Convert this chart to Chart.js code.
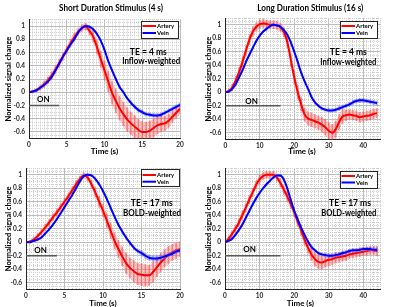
<!DOCTYPE html>
<html><head><meta charset="utf-8">
<script src="https://cdn.jsdelivr.net/npm/chart.js@4"></script>
<style>
html,body{margin:0;padding:0;background:#fff;width:400px;height:307px;overflow:hidden}
.p{position:absolute}
canvas{display:block}
</style></head><body>
<div class="p" style="left:0;top:0"><canvas id="c0" width="200" height="160"></canvas></div>
<div class="p" style="left:200px;top:0"><canvas id="c1" width="200" height="160"></canvas></div>
<div class="p" style="left:0;top:155px"><canvas id="c2" width="200" height="152"></canvas></div>
<div class="p" style="left:200px;top:155px"><canvas id="c3" width="200" height="152"></canvas></div>
<script>
// ---- data ----
const shortTime = [0,0.5,1,1.5,2,2.5,3,3.5,4,4.5,5,5.5,6,6.5,7,7.5,8,8.5,9,9.5,10,10.5,11,11.5,12,12.5,13,13.5,14,14.5,15,15.5,16,16.5,17,17.5,18,18.5,19,19.5,20];
const longTime = [0,1,2,3,4,5,6,7,8,9,10,11,12,13,14,15,16,17,18,19,20,21,22,23,24,25,26,27,28,29,30,31,32,33,34,35,36,37,38,39,40,41,42,43,44];

// Short stimulus, TE = 4 ms
const shortTE4Artery = [0,0.01,0.03,0.07,0.12,0.18,0.25,0.34,0.44,0.54,0.64,0.74,0.83,0.91,0.97,0.99,0.93,0.84,0.68,0.5,0.33,0.16,-0.01,-0.13,-0.24,-0.33,-0.41,-0.47,-0.52,-0.57,-0.6,-0.6,-0.58,-0.54,-0.5,-0.48,-0.47,-0.43,-0.37,-0.31,-0.25];
const shortTE4ArteryErr = [0.01,0.02,0.03,0.04,0.05,0.05,0.06,0.06,0.06,0.06,0.06,0.06,0.06,0.05,0.05,0.05,0.06,0.08,0.1,0.12,0.14,0.16,0.17,0.18,0.18,0.18,0.18,0.17,0.17,0.16,0.16,0.15,0.15,0.14,0.13,0.12,0.11,0.1,0.09,0.08,0.07];
const shortTE4Vein = [0,0.01,0.03,0.07,0.11,0.16,0.23,0.33,0.43,0.54,0.63,0.72,0.8,0.9,0.97,1.0,0.99,0.95,0.88,0.78,0.64,0.47,0.33,0.2,0.08,0.0,-0.09,-0.16,-0.22,-0.27,-0.3,-0.33,-0.34,-0.35,-0.35,-0.34,-0.31,-0.28,-0.25,-0.22,-0.19];
const shortTE4VeinErr = [0.01,0.01,0.01,0.02,0.02,0.02,0.02,0.02,0.02,0.02,0.02,0.02,0.02,0.02,0.02,0.02,0.02,0.02,0.02,0.02,0.02,0.02,0.02,0.02,0.02,0.02,0.02,0.03,0.03,0.03,0.03,0.03,0.03,0.03,0.03,0.03,0.03,0.03,0.03,0.03,0.03];

// Long stimulus, TE = 4 ms
const longTE4Artery = [0,0.02,0.07,0.17,0.3,0.45,0.62,0.78,0.9,0.97,1.01,1.02,1.01,1.0,1.0,0.99,0.96,0.89,0.74,0.48,0.22,0.0,-0.18,-0.33,-0.39,-0.41,-0.43,-0.45,-0.48,-0.52,-0.57,-0.6,-0.55,-0.44,-0.36,-0.34,-0.33,-0.34,-0.35,-0.37,-0.36,-0.35,-0.34,-0.32,-0.31];
const longTE4ArteryErr = [0.01,0.03,0.05,0.06,0.07,0.07,0.07,0.07,0.07,0.06,0.06,0.06,0.06,0.06,0.06,0.06,0.06,0.07,0.08,0.09,0.1,0.1,0.1,0.1,0.1,0.1,0.1,0.1,0.11,0.12,0.12,0.12,0.12,0.11,0.1,0.08,0.07,0.07,0.07,0.07,0.07,0.07,0.07,0.07,0.07];
const longTE4Vein = [0,0.01,0.05,0.12,0.22,0.33,0.45,0.56,0.66,0.76,0.84,0.9,0.94,0.98,1.0,0.99,0.97,0.92,0.85,0.74,0.6,0.45,0.29,0.16,0.05,-0.07,-0.15,-0.2,-0.24,-0.26,-0.27,-0.27,-0.26,-0.24,-0.22,-0.2,-0.18,-0.15,-0.13,-0.12,-0.12,-0.13,-0.14,-0.15,-0.16];
const longTE4VeinErr = [0.01,0.01,0.02,0.02,0.02,0.02,0.02,0.02,0.02,0.02,0.02,0.02,0.02,0.02,0.02,0.02,0.02,0.02,0.02,0.02,0.02,0.02,0.02,0.02,0.02,0.02,0.02,0.02,0.02,0.02,0.03,0.03,0.03,0.03,0.03,0.03,0.03,0.03,0.03,0.03,0.03,0.03,0.03,0.03,0.03];

// Short stimulus, TE = 17 ms
const shortTE17Artery = [0,0.01,0.04,0.09,0.15,0.22,0.29,0.37,0.44,0.52,0.6,0.68,0.77,0.86,0.94,0.99,0.96,0.86,0.74,0.6,0.47,0.32,0.17,0.02,-0.1,-0.21,-0.31,-0.38,-0.43,-0.47,-0.48,-0.49,-0.49,-0.44,-0.37,-0.3,-0.24,-0.19,-0.15,-0.12,-0.1];
const shortTE17ArteryErr = [0.01,0.02,0.03,0.04,0.04,0.05,0.05,0.05,0.05,0.05,0.05,0.05,0.05,0.05,0.04,0.04,0.05,0.06,0.07,0.08,0.09,0.1,0.11,0.12,0.13,0.14,0.15,0.15,0.16,0.16,0.16,0.16,0.15,0.15,0.14,0.14,0.13,0.13,0.12,0.12,0.11];
const shortTE17Vein = [0,0,0.02,0.04,0.07,0.13,0.19,0.26,0.34,0.43,0.52,0.61,0.7,0.8,0.9,0.98,1.0,0.99,0.94,0.86,0.76,0.64,0.51,0.38,0.26,0.16,0.07,-0.01,-0.08,-0.13,-0.16,-0.2,-0.23,-0.24,-0.24,-0.23,-0.21,-0.19,-0.17,-0.14,-0.12];
const shortTE17VeinErr = [0.01,0.01,0.01,0.02,0.02,0.02,0.02,0.02,0.02,0.02,0.02,0.02,0.02,0.02,0.02,0.02,0.02,0.02,0.02,0.02,0.02,0.02,0.02,0.02,0.03,0.03,0.03,0.03,0.03,0.03,0.04,0.04,0.04,0.04,0.04,0.04,0.04,0.03,0.03,0.03,0.03];

// Long stimulus, TE = 17 ms
const longTE17Artery = [0,0.05,0.12,0.2,0.29,0.4,0.51,0.63,0.74,0.85,0.93,0.98,1.0,1.0,1.0,0.96,0.88,0.78,0.68,0.57,0.45,0.31,0.18,0.04,-0.08,-0.18,-0.25,-0.29,-0.3,-0.28,-0.26,-0.25,-0.23,-0.22,-0.21,-0.2,-0.18,-0.17,-0.16,-0.15,-0.14,-0.13,-0.12,-0.12,-0.13];
const longTE17ArteryErr = [0.01,0.03,0.04,0.05,0.06,0.06,0.06,0.06,0.06,0.06,0.06,0.05,0.05,0.05,0.05,0.05,0.06,0.06,0.07,0.07,0.07,0.07,0.08,0.08,0.08,0.09,0.1,0.1,0.1,0.09,0.09,0.08,0.08,0.07,0.07,0.07,0.06,0.06,0.06,0.06,0.06,0.06,0.06,0.06,0.07];
const longTE17Vein = [0,0.02,0.05,0.11,0.18,0.26,0.36,0.46,0.56,0.65,0.73,0.8,0.86,0.91,0.96,0.99,0.99,0.93,0.8,0.63,0.47,0.34,0.22,0.11,0.01,-0.07,-0.12,-0.16,-0.18,-0.19,-0.2,-0.2,-0.19,-0.18,-0.16,-0.15,-0.13,-0.12,-0.12,-0.11,-0.1,-0.1,-0.1,-0.11,-0.11];
const longTE17VeinErr = [0.01,0.01,0.02,0.02,0.02,0.02,0.02,0.02,0.02,0.02,0.02,0.02,0.02,0.02,0.02,0.02,0.02,0.02,0.02,0.02,0.02,0.02,0.02,0.02,0.02,0.02,0.02,0.02,0.02,0.03,0.03,0.03,0.03,0.03,0.03,0.03,0.03,0.03,0.03,0.03,0.03,0.03,0.03,0.03,0.03];

// stimulus "ON" period (s) and level
const shortOn = [0, 4];
const longOn = [0, 16];
const onLevel = -0.2;

const seriesNames = ['Artery', 'Vein'];
const yTickLabels = [-0.6,-0.4,-0.2,0,0.2,0.4,0.6,0.8,1];
const shortXTickLabels = [0,5,10,15,20];
const longXTickLabels = [0,10,20,30,40];

// ---- drawing ----
const FONT = 'Lato, "DejaVu Sans", sans-serif';

const annPlugin = {
  id: 'ann',
  afterDraw(chart, args, o) {
    const ctx = chart.ctx;
    ctx.save();
    ctx.fillStyle = '#000';
    ctx.textAlign = 'center';
    ctx.textBaseline = 'middle';
    for (const t of o.texts) {
      ctx.font = t.font;
      if (t.rot) {
        ctx.save(); ctx.translate(t.x, t.y); ctx.rotate(-Math.PI / 2);
        ctx.fillText(t.s, 0, 0, t.w); ctx.restore();
      } else {
        ctx.fillText(t.s, t.x, t.y, t.w);
      }
    }
    // ON label in data coordinates
    const xs = chart.scales.x, ys = chart.scales.y;
    ctx.font = 'bold 8px ' + FONT;
    ctx.fillText('ON', xs.getPixelForValue(o.onX), ys.getPixelForValue(onLevel) - o.onDy);
    // legend box
    const L = o.legend;
    ctx.fillStyle = '#fff';
    ctx.fillRect(L.x, L.y, L.w, L.h);
    ctx.strokeStyle = '#262626';
    ctx.lineWidth = 1;
    ctx.strokeRect(Math.round(L.x) + 0.5, Math.round(L.y) + 0.5, Math.round(L.w), Math.round(L.h));
    const cols = ['#ff0000', '#0000ff'];
    ctx.font = 'bold 6px ' + FONT;
    ctx.textAlign = 'left';
    seriesNames.forEach((n, i) => {
      const yy = L.y + L.r[i];
      ctx.strokeStyle = cols[i]; ctx.lineWidth = 2;
      ctx.beginPath(); ctx.moveTo(L.x + 1.5, yy); ctx.lineTo(L.x + 15, yy); ctx.stroke();
      ctx.fillStyle = '#000';
      ctx.fillText(n, L.x + 16, yy + 0.3);
    });
    ctx.restore();
  }
};

function isMajorY(v) { const r = Math.round(v * 100); return r % 20 === 0 && yTickLabels.some(t => Math.round(t * 100) === r); }

function build(id, cfg) {
  const t = cfg.time;
  const pts = ys => t.map((x, i) => ({ x, y: ys[i] }));
  const band = (ys, es, s) => t.map((x, i) => ({ x, y: ys[i] + s * es[i] }));
  const bars = (ys, es) => t.map((x, i) => ({ x, y: [ys[i] - es[i], ys[i] + es[i]] }));
  const lineBase = { type: 'line', pointRadius: 0, cubicInterpolationMode: 'monotone' };
  const datasets = [
    { ...lineBase, data: band(cfg.a, cfg.ae, 1), borderWidth: 0, borderColor: 'rgba(0,0,0,0)', fill: false, order: 7 },
    { ...lineBase, data: band(cfg.a, cfg.ae, -1), borderWidth: 0, borderColor: 'rgba(0,0,0,0)', fill: 0, backgroundColor: 'rgba(255,110,110,0.33)', order: 7 },
    { type: 'bar', data: bars(cfg.a, cfg.ae), backgroundColor: 'rgba(255,60,60,0.5)', barThickness: 1, grouped: false, order: 6 },
    { ...lineBase, label: seriesNames[0], data: pts(cfg.a), borderColor: '#ff0000', borderWidth: 2, fill: false, order: 5 },
    { ...lineBase, data: band(cfg.v, cfg.ve, 1), borderWidth: 0, borderColor: 'rgba(0,0,0,0)', fill: false, order: 4 },
    { ...lineBase, data: band(cfg.v, cfg.ve, -1), borderWidth: 0, borderColor: 'rgba(0,0,0,0)', fill: 4, backgroundColor: 'rgba(110,110,255,0.35)', order: 4 },
    { type: 'bar', data: bars(cfg.v, cfg.ve), backgroundColor: 'rgba(90,90,255,0.4)', barThickness: 1, grouped: false, order: 3 },
    { ...lineBase, label: seriesNames[1], data: pts(cfg.v), borderColor: '#0000ff', borderWidth: 2, fill: false, order: 2 },
    { type: 'line', data: [{ x: cfg.on[0], y: onLevel }, { x: cfg.on[1], y: onLevel }], borderColor: '#595959', borderWidth: 1.5, pointRadius: 0, fill: false, order: 8 }
  ];
  const A = cfg.area;
  const gridDash = isMaj => isMaj ? [] : [1, 1];
  new Chart(document.getElementById(id), {
    type: 'line',
    data: { datasets },
    options: {
      responsive: false, animation: false, events: [],
      layout: { padding: { left: 0, top: A.top, right: A.W - A.right, bottom: 0 } },
      plugins: {
        legend: { display: false }, tooltip: { enabled: false },
        ann: { texts: cfg.texts, legend: cfg.legend, onX: cfg.onX, onDy: cfg.onDy }
      },
      scales: {
        x: {
          type: 'linear', min: 0, max: cfg.xMax, offset: false,
          afterFit: s => { s.height = A.H - A.bottom; },
          ticks: {
            stepSize: cfg.xMinor, autoSkip: false, maxTicksLimit: 1000, maxRotation: 0, padding: 2.5,
            color: '#262626', font: { family: FONT, weight: 'bold', size: 6.5 },
            callback: v => cfg.xLabels.includes(Math.round(v * 100) / 100) ? String(Math.round(v)) : ''
          },
          grid: {
            offset: false, drawTicks: false,
            color: c => (c.tick && cfg.xLabels.includes(Math.round(c.tick.value * 100) / 100)) ? '#bdbdbd' : '#cfcfcf',
            lineWidth: 1
          },
          border: { color: '#262626', width: 1, dash: c => gridDash(c.tick && cfg.xLabels.includes(Math.round(c.tick.value * 100) / 100)) }
        },
        y: {
          type: 'linear', min: -0.7, max: 1.1,
          afterFit: s => { s.width = A.left; },
          ticks: {
            stepSize: 0.05, autoSkip: false, maxTicksLimit: 1000, padding: 4,
            color: '#262626', font: { family: FONT, weight: 'bold', size: 6.5 },
            callback: v => isMajorY(v) ? String(Math.round(v * 100) / 100) : ''
          },
          grid: {
            drawTicks: false,
            color: c => (c.tick && isMajorY(c.tick.value)) ? '#bdbdbd' : '#cfcfcf',
            lineWidth: 1
          },
          border: { color: '#262626', width: 1, dash: c => gridDash(c.tick && isMajorY(c.tick.value)) }
        }
      }
    },
    plugins: [annPlugin]
  });
}

const titleFont = 'bold 9px ' + FONT;
const teFont = 'bold 8.5px ' + FONT;
const yFont = 'bold 7.5px ' + FONT;
const xFont = 'bold 8px ' + FONT;

build('c0', {
  time: shortTime, a: shortTE4Artery, ae: shortTE4ArteryErr, v: shortTE4Vein, ve: shortTE4VeinErr,
  on: shortOn, onX: 1.9, onDy: 6, xMax: 20, xMinor: 0.5, xLabels: shortXTickLabels,
  area: { W: 200, H: 160, left: 29, right: 180, top: 19.4, bottom: 138.6 },
  legend: { x: 141, y: 21, w: 37, h: 17, r: [5, 12] },
  texts: [
    { s: 'Short Duration Stimulus (4 s)', x: 111, y: 8, w: 104, font: titleFont },
    { s: 'Normalized signal change', x: 9, y: 79, w: 100, font: yFont, rot: true },
    { s: 'Time (s)', x: 104.5, y: 151.7, w: 40, font: xFont },
    { s: 'TE = 4 ms', x: 148.3, y: 52, w: 60, font: teFont },
    { s: 'Inflow-weighted', x: 151.2, y: 61.3, w: 58, font: teFont }
  ]
});
build('c1', {
  time: longTime, a: longTE4Artery, ae: longTE4ArteryErr, v: longTE4Vein, ve: longTE4VeinErr,
  on: longOn, onX: 7.6, onDy: 4.5, xMax: 45, xMinor: 1, xLabels: longXTickLabels,
  area: { W: 200, H: 160, left: 25.3, right: 180.5, top: 18, bottom: 139.5 },
  legend: { x: 140, y: 21, w: 37, h: 17, r: [5, 12] },
  texts: [
    { s: 'Long Duration Stimulus (16 s)', x: 110.3, y: 8, w: 106, font: titleFont },
    { s: 'Normalized signal change', x: 9, y: 79, w: 100, font: yFont, rot: true },
    { s: 'Time (s)', x: 102, y: 151.7, w: 40, font: xFont },
    { s: 'TE = 4 ms', x: 148.3, y: 52.7, w: 60, font: teFont },
    { s: 'Inflow-weighted', x: 148.3, y: 62, w: 56, font: teFont }
  ]
});
build('c2', {
  time: shortTime, a: shortTE17Artery, ae: shortTE17ArteryErr, v: shortTE17Vein, ve: shortTE17VeinErr,
  on: shortOn, onX: 1.9, onDy: 5, xMax: 20, xMinor: 0.5, xLabels: shortXTickLabels,
  area: { W: 200, H: 152, left: 26, right: 180, top: 13, bottom: 134.5 },
  legend: { x: 141, y: 14, w: 38, h: 17, r: [6, 12.7] },
  texts: [
    { s: 'Normalized signal change', x: 9, y: 73.75, w: 100, font: yFont, rot: true },
    { s: 'Time (s)', x: 103, y: 148.7, w: 40, font: xFont },
    { s: 'TE = 17 ms', x: 151.7, y: 48.7, w: 60, font: teFont },
    { s: 'BOLD-weighted', x: 152, y: 58.3, w: 58, font: teFont }
  ]
});
build('c3', {
  time: longTime, a: longTE17Artery, ae: longTE17ArteryErr, v: longTE17Vein, ve: longTE17VeinErr,
  on: longOn, onX: 7.1, onDy: 6.5, xMax: 45, xMinor: 1, xLabels: longXTickLabels,
  area: { W: 200, H: 152, left: 25, right: 180.6, top: 13, bottom: 134.5 },
  legend: { x: 140, y: 16, w: 36.7, h: 16.7, r: [5, 11.5] },
  texts: [
    { s: 'Normalized signal change', x: 9, y: 73.75, w: 100, font: yFont, rot: true },
    { s: 'Time (s)', x: 100.3, y: 148.7, w: 40, font: xFont },
    { s: 'TE = 17 ms', x: 150, y: 48.7, w: 60, font: teFont },
    { s: 'BOLD-weighted', x: 148.8, y: 58.3, w: 55, font: teFont }
  ]
});
</script>
</body></html>
